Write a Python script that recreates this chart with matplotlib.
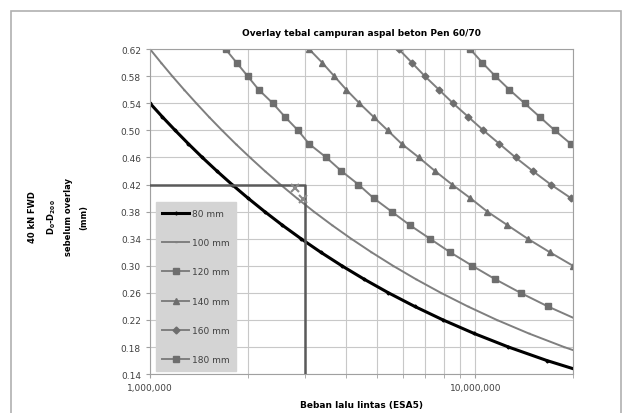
import numpy as np
import matplotlib
matplotlib.use("Agg")
from matplotlib import pyplot as plt
from matplotlib.patches import Rectangle
from matplotlib.ticker import FixedLocator, NullFormatter

# deflection levels (mm), one point per 0.02 mm
d_80 = [0.54, 0.52, 0.50, 0.48, 0.46, 0.44, 0.42, 0.40, 0.38, 0.36, 0.34,
        0.32, 0.30, 0.28, 0.26, 0.24, 0.22, 0.20, 0.18, 0.16, 0.14]
n_80 = [1.000, 1.091, 1.195, 1.313, 1.448, 1.605, 1.787, 2.000, 2.252, 2.551, 2.912,
        3.349, 3.888, 4.560, 5.411, 6.510, 7.958, 9.919, 12.65, 16.61, 22.61]

d_100 = [0.62, 0.60, 0.58, 0.56, 0.54, 0.52, 0.50, 0.48, 0.46, 0.44, 0.42, 0.40,
         0.38, 0.36, 0.34, 0.32, 0.30, 0.28, 0.26, 0.24, 0.22, 0.20, 0.18, 0.16]
n_100 = [1.000, 1.081, 1.171, 1.273, 1.388, 1.517, 1.665, 1.834, 2.029, 2.254, 2.517, 2.826,
         3.190, 3.627, 4.153, 4.795, 5.587, 6.580, 7.842, 9.482, 11.65, 14.61, 18.75, 24.79]

d_120 = [0.62, 0.60, 0.58, 0.56, 0.54, 0.52, 0.50, 0.48, 0.46, 0.44, 0.42,
         0.40, 0.38, 0.36, 0.34, 0.32, 0.30, 0.28, 0.26, 0.24, 0.22]
n_120 = [1.707, 1.846, 1.997, 2.159, 2.386, 2.599, 2.851, 3.084, 3.482, 3.875, 4.374,
         4.867, 5.534, 6.293, 7.256, 8.368, 9.788, 11.53, 13.78, 16.71, 20.70]

d_140 = [0.62, 0.60, 0.58, 0.56, 0.54, 0.52, 0.50, 0.48, 0.46,
         0.44, 0.42, 0.40, 0.38, 0.36, 0.34, 0.32, 0.30]
n_140 = [3.084, 3.384, 3.686, 4.015, 4.406, 4.867, 5.379, 5.943, 6.708,
         7.519, 8.488, 9.650, 10.89, 12.56, 14.49, 16.95, 19.97]

d_160 = [0.62, 0.60, 0.58, 0.56, 0.54, 0.52, 0.50, 0.48, 0.46, 0.44, 0.42, 0.40]
n_160 = [5.817, 6.383, 7.000, 7.735, 8.549, 9.513, 10.59, 11.87, 13.30, 15.02, 17.07, 19.68]

d_180 = [0.62, 0.60, 0.58, 0.56, 0.54, 0.52, 0.50, 0.48]
n_180 = [9.650, 10.51, 11.53, 12.74, 14.18, 15.78, 17.56, 19.68]

labels = ["80 mm", "100 mm", "120 mm", "140 mm", "160 mm", "180 mm"]

# reading example drawn on the chart (ESA in millions, deflection)
guide_n = [1.0, 3.0, 3.0]
guide_d = [0.42, 0.42, 0.14]
mark_n = [2.8, 2.95]
mark_d = [0.415, 0.398]

fig = plt.figure(figsize=(6.25, 4.14), dpi=100)
ax = fig.add_axes([0.24, 0.094, 0.677, 0.785])

grey = "#7f7f7f"
mk = "#6e6e6e"
ax.plot(np.array(n_80) * 1e6, d_80, color="black", lw=2.2, marker="D", ms=1.5, label=labels[0])
ax.plot(np.array(n_100) * 1e6, d_100, color=grey, lw=1.4, marker="_", ms=2, label=labels[1])
ax.plot(np.array(n_120) * 1e6, d_120, color=grey, lw=1.4, marker="s", ms=5,
        mfc=mk, mec=mk, label=labels[2])
ax.plot(np.array(n_140) * 1e6, d_140, color=grey, lw=1.4, marker="^", ms=4.5,
        mfc=mk, mec=mk, label=labels[3])
ax.plot(np.array(n_160) * 1e6, d_160, color=grey, lw=1.4, marker="D", ms=3.5,
        mfc=mk, mec=mk, label=labels[4])
ax.plot(np.array(n_180) * 1e6, d_180, color=grey, lw=1.4, marker="s", ms=4.5,
        mfc=mk, mec=mk, label=labels[5])

ax.plot(np.array(guide_n) * 1e6, guide_d, color="#5a5a5a", lw=1.8, zorder=4)
ax.plot(np.array(mark_n) * 1e6, mark_d, ls="none", marker="x", ms=6, mew=1.5,
        color="#8a8a8a", zorder=5)

ax.set_xscale("log")
ax.set_xlim(1e6, 2e7)
ax.set_ylim(0.14, 0.62)
ax.xaxis.set_major_locator(FixedLocator([1e6, 1e7]))
ax.xaxis.set_minor_locator(FixedLocator([k * 1e6 for k in range(2, 10)] + [2e7]))
ax.xaxis.set_minor_formatter(NullFormatter())
ax.set_xticks([1e6, 1e7])
ax.set_xticklabels(["1,000,000", "10,000,000"])
ax.set_yticks(np.arange(0.14, 0.621, 0.04))
ax.set_yticklabels(["%.2f" % v for v in np.arange(0.14, 0.621, 0.04)])
ax.tick_params(axis="both", which="both", labelsize=6.5, colors="#404040", length=3,
               color="#a0a0a0")
ax.grid(True, which="both", color="#c8c8c8", lw=0.8)
for s in ax.spines.values():
    s.set_color("#a0a0a0")

ax.set_title("Overlay tebal campuran aspal beton Pen 60/70", fontsize=6.5,
             fontweight="bold", pad=10)
ax.set_xlabel("Beban lalu lintas (ESA5)", fontsize=6.5, fontweight="bold", labelpad=6)
fig.text(0.093, 0.475, "40 kN FWD\n$\\mathbf{D_0}$-$\\mathbf{D_{200}}$\nsebelum overlay\n(mm)",
         rotation=90, ha="center", va="center", fontsize=6, fontweight="bold",
         linespacing=1.9)

leg = ax.legend(loc="lower left", bbox_to_anchor=(0.01, 0.005), fontsize=6.5,
                frameon=True, fancybox=False, handlelength=3.0, labelspacing=2.25,
                borderpad=0.7, handletextpad=0.25, borderaxespad=0.2)
leg.get_frame().set_facecolor("#d4d4d4")
leg.get_frame().set_edgecolor("#d4d4d4")
leg.get_frame().set_alpha(1)
for t in leg.get_texts():
    t.set_color("#404040")

fig.patches.append(Rectangle((0.018, -0.01), 0.975, 0.98, transform=fig.transFigure,
                             fill=False, edgecolor="#b0b0b0", lw=1.2))

fig.savefig("out.png", dpi=100)
